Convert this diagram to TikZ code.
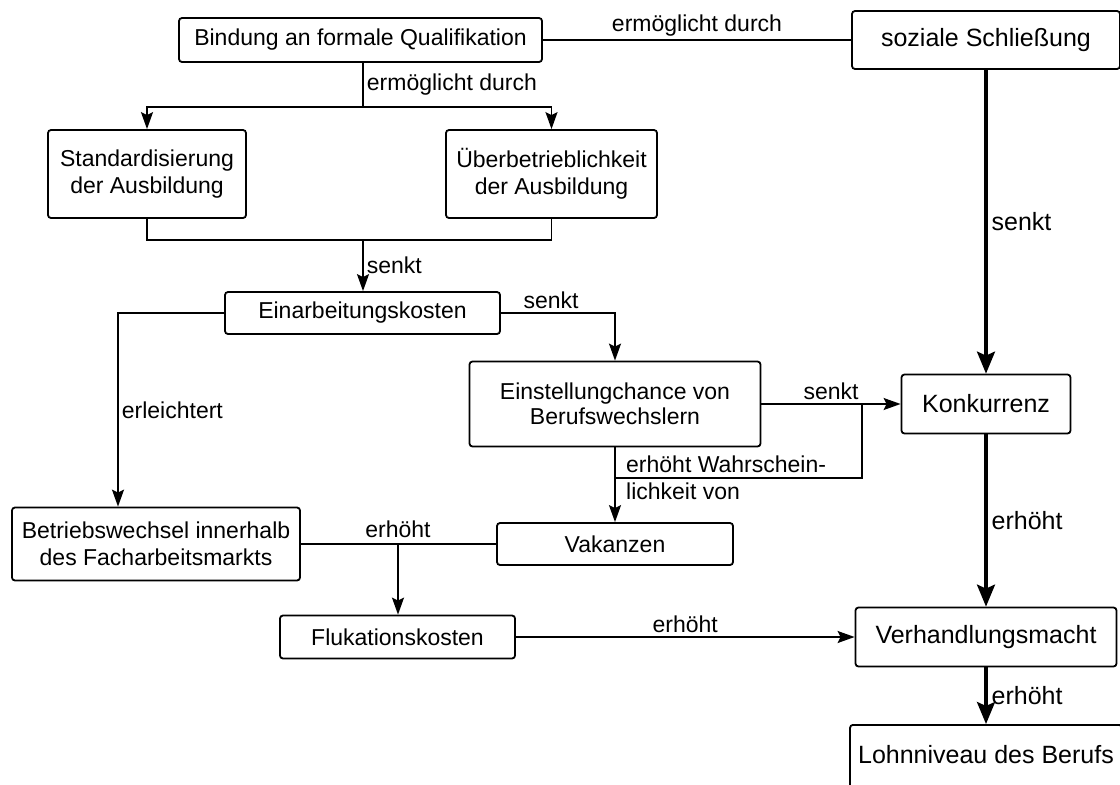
\documentclass[tikz,border=0pt]{standalone}
\usepackage{fontspec}
\setmainfont{Liberation Sans}
\usetikzlibrary{arrows.meta}

\tikzset{
  box/.style={draw, rounded corners=3pt, line width=1.8pt, align=center, inner sep=0pt,
    font=\fontsize{23}{27}\selectfont},
  bigbox/.style={box, font=\fontsize{25}{29}\selectfont},
  lbl/.style={inner sep=3pt, font=\fontsize{23}{27}\selectfont},
  biglbl/.style={inner sep=4pt, font=\fontsize{25}{29}\selectfont},
  wire/.style={line width=1.8pt},
  conn/.style={wire, -{Stealth[length=17pt,width=12pt,inset=3pt]}},
  thickconn/.style={line width=3.3pt, -{Stealth[length=22pt,width=18pt,inset=4pt]}}
}

\begin{document}
\begin{tikzpicture}[x=1pt,y=-1pt]
  \useasboundingbox (0,0) rectangle (1120,785);
  \clip (0,0) rectangle (1120,785);

  \node[box, minimum width=363pt, minimum height=44pt] (bind) at (360.5,40) {Bindung an formale Qualifikation};
  \node[bigbox, minimum width=268pt, minimum height=58pt] (sozial) at (986,40) {soziale Schließung};
  \node[box, minimum width=198pt, minimum height=88pt] (stand) at (147,174) {Standardisierung\\der Ausbildung};
  \node[box, minimum width=211pt, minimum height=88pt] (ueber) at (551.5,174) {Überbetrieblichkeit\\der Ausbildung};
  \node[box, minimum width=275pt, minimum height=42pt] (einarb) at (362.5,313) {Einarbeitungskosten};
  \node[box, minimum width=291pt, minimum height=85pt, font=\fontsize{23}{25}\selectfont] (einst) at (615,404) {Einstellungchance von\\Berufswechslern};
  \node[bigbox, minimum width=169pt, minimum height=59pt] (konk) at (986,404) {Konkurrenz};
  \node[box, minimum width=288pt, minimum height=73pt] (betr) at (156,544) {Betriebswechsel innerhalb\\des Facharbeitsmarkts};
  \node[box, minimum width=236pt, minimum height=42pt] (vak) at (615,544) {Vakanzen};
  \node[box, minimum width=235pt, minimum height=43pt] (fluk) at (397.5,637) {Flukationskosten};
  \node[bigbox, minimum width=261pt, minimum height=59pt] (verh) at (986,637) {Verhandlungsmacht};
  \node[bigbox, minimum width=272pt, minimum height=64pt, anchor=north] (lohn) at (986,724) {\raisebox{4pt}{Lohnniveau des Berufs}};

  \coordinate (splitA) at (363,107);
  \coordinate (joinA) at (363,240);
  \coordinate (branchB) at (862,404);
  \coordinate (joinB) at (615,478);
  \coordinate (joinC) at (398,544);

  \draw[wire] (bind) -- node[lbl, above] (lblTop) {ermöglicht durch} (sozial);
  \draw[wire] (splitA |- bind.south) -- node[lbl, right] (lblSplit) {ermöglicht durch} (splitA);
  \draw[conn] (splitA) -| (stand.north);
  \draw[conn] (splitA) -| (ueber.north);
  \draw[wire] (stand.south) |- (joinA) -| (ueber.south);
  \draw[conn] (joinA) -- node[lbl, right] (lblJoin) {senkt} (joinA |- einarb.north);

  \draw[conn] (einarb.west) -| node[lbl, right, pos=0.75] (lblLeicht) {erleichtert} ([xshift=-38pt]betr.north);
  \draw[conn] (einarb.east) -| node[lbl, above, pos=0.22] (lblEinst) {senkt} (einst.north);

  \draw[conn] (einst) -- node[lbl, above] (lblKonk) {senkt} (konk);
  \draw[wire] (branchB) |- (joinB);
  \draw[conn] (einst.south) -- (vak.north);
  \node[lbl, right, align=left, xshift=8pt] (lblWahr) at (joinB) {erhöht Wahrschein-\\lichkeit von};

  \draw[wire] (betr) -- (vak);
  \node[lbl, above, yshift=3pt] (lblBetr) at (joinC) {erhöht};
  \draw[conn] (joinC) -- (joinC |- fluk.north);
  \draw[conn] (fluk) -- node[lbl, above] (lblFluk) {erhöht} (verh);

  \draw[thickconn] (sozial) -- node[biglbl, right] (lblSozial) {senkt} (konk);
  \draw[thickconn] (konk) -- node[biglbl, right] (lblKonkVerh) {erhöht} (verh);
  \draw[thickconn] (verh) -- node[biglbl, right] (lblLohn) {erhöht} (lohn);
\end{tikzpicture}
\end{document}
